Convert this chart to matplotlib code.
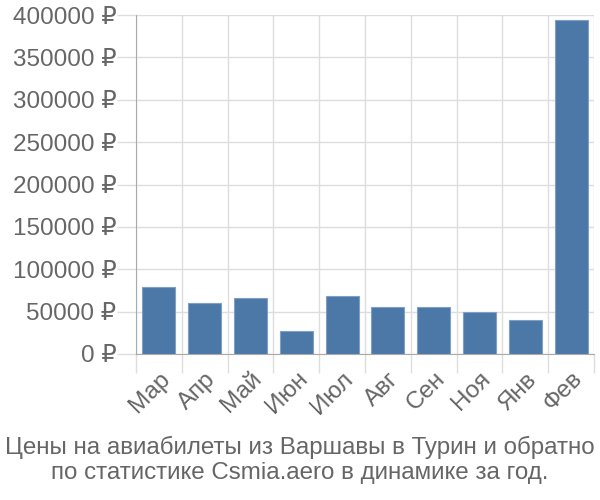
import matplotlib.pyplot as plt
import numpy as np

# Monthly ticket prices, Warsaw - Turin
months = ["Мар", "Апр", "Май", "Июн", "Июл", "Авг", "Сен", "Ноя", "Янв", "Фев"]
prices = [79200, 60000, 66600, 27000, 68200, 55400, 55500, 49000, 40000, 394500]
y_ticks = [0, 50000, 100000, 150000, 200000, 250000, 300000, 350000, 400000]

plt.rcParams["font.family"] = ["Liberation Sans", "DejaVu Sans"]

fig = plt.figure(figsize=(6, 5), dpi=100)
ax = fig.add_axes([136 / 600, 1 - 354 / 500, 458 / 600, 339 / 500])

x = np.arange(len(months))
ax.bar(x, prices, width=0.72, color="#4c78a8", edgecolor="#7f9fc4",
       linewidth=0.8, zorder=3)

ax.set_xlim(-0.5, len(months) - 0.5)
ax.set_ylim(0, 400000)

# labels at bar centres, grid/tick marks at category boundaries
ax.set_xticks(x)
ax.set_xticklabels(months, rotation=45, ha="right", rotation_mode="anchor",
                   fontsize=17.5, color="#666666")
ax.tick_params(axis="x", which="major", length=0, pad=10)
ax.set_xticks(np.arange(len(months) + 1) - 0.5, minor=True)
ax.tick_params(axis="x", which="minor", length=14, color="#dddddd", width=1)

ax.set_yticks(y_ticks)
ax.set_yticklabels([f"{v} ₽" for v in y_ticks], fontsize=17.5, color="#666666")
ax.tick_params(axis="y", length=14, color="#dddddd", width=1, pad=0)

ax.grid(True, which="minor", axis="x", color="#dddddd", linewidth=1, zorder=0)
ax.grid(True, which="major", axis="y", color="#dddddd", linewidth=1, zorder=0)

for side in ["top", "right"]:
    ax.spines[side].set_visible(False)
ax.spines["left"].set_color("#aaaaaa")
ax.spines["bottom"].set_color("#aaaaaa")
ax.spines["left"].set_bounds(0, 400000)

fig.text(0.5, 1 - 460 / 500,
         "Цены на авиабилеты из Варшавы в Турин и обратно\n"
         "по статистике Csmia.aero в динамике за год.",
         ha="center", va="center", fontsize=17.4, color="#666666",
         linespacing=1.2)

fig.savefig("out.png", dpi=100)
